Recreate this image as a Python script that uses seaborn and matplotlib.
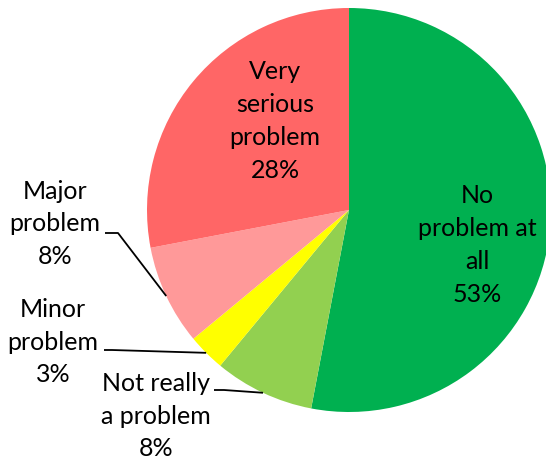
import matplotlib
matplotlib.use("Agg")
import matplotlib.pyplot as plt
import seaborn as sns
import numpy as np

# Survey answers, read clockwise from 12 o'clock
categories = ["No problem at all", "Not really a problem", "Minor problem",
              "Major problem", "Very serious problem"]
label_text = ["No\nproblem at\nall", "Not really\na problem", "Minor\nproblem",
              "Major\nproblem", "Very\nserious\nproblem"]
shares = [53, 8, 3, 8, 28]
colors = ["#00B050", "#92D050", "#FFFF00", "#FF9999", "#FF6666"]

sns.set_theme(style="white")
plt.rcParams["font.family"] = ["Lato", "DejaVu Sans"]

W, H = 546, 459
fig = plt.figure(figsize=(W / 100, H / 100), dpi=100)
ax = fig.add_axes([0, 0, 1, 1])

# pie geometry in pixels
cx, cy, r = 349, 210, 202


def px(x, y):
    return ((x - cx) / r, (cy - y) / r)


wedges, _ = ax.pie(shares, colors=colors, startangle=90, counterclock=False,
                   radius=1, center=(0, 0), wedgeprops=dict(linewidth=0))

ax.set_xlim(-cx / r, (W - cx) / r)
ax.set_ylim((cy - H) / r, cy / r)
ax.set_aspect("equal")
ax.axis("off")

fs = 18
ls = 1.52

# labels inside the two big slices
inside = {0: px(477, 245), 4: px(275, 121)}
for i, pos in inside.items():
    ax.text(pos[0], pos[1], f"{label_text[i]}\n{shares[i]}%", ha="center", va="center",
            fontsize=fs, color="black", linespacing=ls)

# labels outside with leader lines to the slice middle
outside = {
    3: (px(55, 224), px(105, 233), px(118, 233)),
    2: (px(53, 342), px(104, 350), px(112, 350)),
    1: (px(156, 416), px(214, 390), px(224, 390)),
}
for i, (tpos, p0, p1) in outside.items():
    w = wedges[i]
    mid = np.deg2rad((w.theta1 + w.theta2) / 2)
    edge = (np.cos(mid), np.sin(mid))
    ax.text(tpos[0], tpos[1], f"{label_text[i]}\n{shares[i]}%", ha="center", va="center",
            fontsize=fs, color="black", linespacing=ls)
    ax.plot([p0[0], p1[0], edge[0]], [p0[1], p1[1], edge[1]], color="black", lw=1.3,
            solid_capstyle="butt")

fig.savefig("out.png", dpi=100, facecolor="white")
